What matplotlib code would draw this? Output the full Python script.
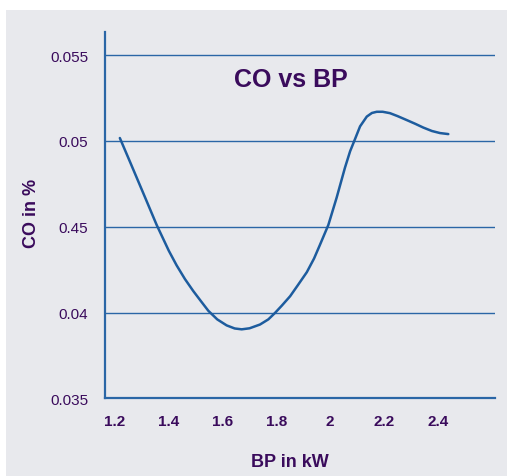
import matplotlib
matplotlib.use("Agg")
import matplotlib.pyplot as plt
from matplotlib.patches import Rectangle

# values
bp = [1.218, 1.258, 1.312, 1.355, 1.400, 1.429, 1.460, 1.491, 1.520, 1.547,
      1.580, 1.615, 1.645, 1.671, 1.700, 1.739, 1.770, 1.795, 1.820, 1.851,
      1.880, 1.913, 1.940, 1.962, 1.993, 2.024, 2.055, 2.074, 2.092, 2.111,
      2.136, 2.155, 2.173, 2.195, 2.222, 2.250, 2.284, 2.316, 2.346, 2.378,
      2.408, 2.439]
co = [0.05017, 0.04870, 0.04670, 0.04510, 0.04360, 0.04275, 0.04195, 0.04125,
      0.04065, 0.04010, 0.03960, 0.03925, 0.03907, 0.03902, 0.03908, 0.03930,
      0.03960, 0.03998, 0.04040, 0.04095, 0.04160, 0.04235, 0.04315, 0.04395,
      0.04510, 0.04670, 0.04845, 0.04940, 0.05010, 0.05085, 0.05142, 0.05163,
      0.05170, 0.05170, 0.05162, 0.05145, 0.05122, 0.05100, 0.05078, 0.05058,
      0.05046, 0.05040]

x_ticks = [1.2, 1.4, 1.6, 1.8, 2.0, 2.2, 2.4]
x_labels = ["1.2", "1.4", "1.6", "1.8", "2", "2.2", "2.4"]
y_ticks = [0.035, 0.04, 0.045, 0.05, 0.055]
y_labels = ["0.035", "0.04", "0.45", "0.05", "0.055"]

plt.rcParams["font.family"] = ["Liberation Sans", "DejaVu Sans"]

blue = "#2a66a6"
line_blue = "#1d5c9e"
purple = "#3a0b5c"
panel = "#e8e9ed"

fig = plt.figure(figsize=(5.07, 4.77), dpi=100, facecolor="white")
fig.patches.append(Rectangle((6 / 507, 0), 1, 1 - 11 / 477, transform=fig.transFigure,
                             facecolor=panel, edgecolor="none", zorder=-10))

ax = fig.add_axes([105 / 507, 1 - 399.3 / 477, 390 / 507, 366.3 / 477])
ax.set_facecolor(panel)
ax.set_xlim(1.1628, 2.6126)
ax.set_ylim(0.035, 0.05635)

for v in y_ticks[1:]:
    ax.axhline(v, color=blue, lw=1.0, zorder=1)

ax.plot(bp, co, color=line_blue, lw=1.8, zorder=3, solid_capstyle="round",
        solid_joinstyle="round")

ax.set_xticks(x_ticks)
ax.set_xticklabels(x_labels, fontsize=11, fontweight="bold", color=purple)
ax.set_yticks(y_ticks)
ax.set_yticklabels(y_labels, fontsize=11, color=purple)
ax.tick_params(axis="both", length=0)
ax.tick_params(axis="x", pad=11)
ax.tick_params(axis="y", pad=12)

for s in ["top", "right"]:
    ax.spines[s].set_visible(False)
for s in ["left", "bottom"]:
    ax.spines[s].set_color(blue)
    ax.spines[s].set_linewidth(1.6)

ax.text(1.855, 0.0536, "CO vs BP", fontsize=18, fontweight="bold", color=purple,
        ha="center", va="center")
fig.text(290 / 507, 1 - 463 / 477, "BP in kW", fontsize=13, fontweight="bold",
         color=purple, ha="center", va="center")
fig.text(31 / 507, 1 - 213 / 477, "CO in %", fontsize=13, fontweight="bold",
         color=purple, ha="center", va="center", rotation=90)

fig.savefig("out.png", dpi=100, facecolor="white")
